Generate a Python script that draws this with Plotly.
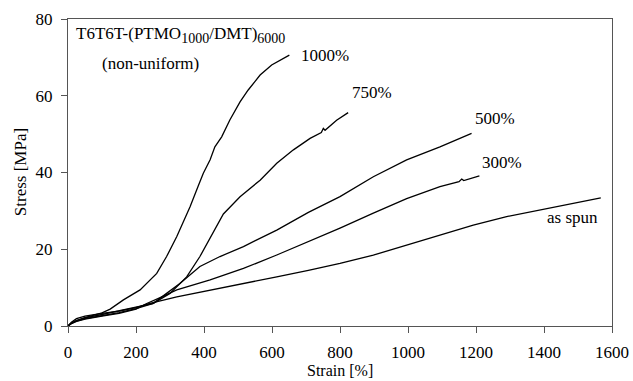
import plotly.graph_objects as go

# ---- data ----
as_spun_x = [0, 10, 25, 50, 100, 150, 200, 241, 320, 418, 516, 614, 707, 800, 898, 996, 1094, 1192, 1290, 1388, 1486, 1567]
as_spun_y = [0, 1.0, 1.9, 2.6, 3.3, 3.9, 4.8, 5.9, 7.6, 9.4, 11.1, 12.8, 14.5, 16.3, 18.5, 21.1, 23.7, 26.3, 28.5, 30.2, 32.0, 33.4]

s300_x = [0, 10, 25, 50, 100, 150, 200, 230, 271, 320, 418, 516, 614, 707, 800, 898, 996, 1094, 1150, 1158, 1164, 1210]
s300_y = [0, 0.6, 1.2, 1.8, 2.6, 3.3, 4.4, 5.8, 7.4, 9.4, 12.0, 15.0, 18.5, 22.0, 25.5, 29.4, 33.2, 36.3, 37.6, 38.3, 37.9, 39.1]

s500_x = [0, 10, 25, 50, 100, 150, 200, 251, 290, 329, 388, 447, 516, 614, 707, 800, 898, 996, 1094, 1187]
s500_y = [0, 0.7, 1.3, 1.9, 2.7, 3.5, 4.5, 5.9, 8.5, 11.1, 15.5, 18.1, 20.7, 25.0, 29.6, 33.7, 38.9, 43.3, 46.7, 50.2]

s750_x = [0, 10, 25, 50, 100, 150, 200, 251, 300, 349, 388, 427, 457, 506, 565, 614, 663, 712, 745, 751, 756, 790, 824]
s750_y = [0, 0.7, 1.4, 2.1, 3.0, 3.9, 4.9, 5.9, 8.5, 12.8, 18.1, 24.2, 29.2, 33.7, 38.0, 42.4, 45.9, 48.9, 50.4, 51.5, 51.0, 53.6, 55.6]

s1000_x = [0, 10, 25, 50, 100, 124, 163, 212, 261, 290, 320, 359, 383, 398, 418, 432, 452, 476, 506, 530, 565, 599, 651]
s1000_y = [0, 0.8, 1.4, 2.2, 3.4, 4.4, 6.8, 9.4, 13.7, 18.1, 23.3, 31.1, 36.5, 39.8, 43.3, 46.7, 49.3, 53.7, 58.4, 61.5, 65.4, 68.0, 70.6]

x_ticks = [0, 200, 400, 600, 800, 1000, 1200, 1400, 1600]
y_ticks = [0, 20, 40, 60, 80]

FONT = '"Liberation Serif", "Times New Roman", Times, serif'
BLACK = "black"
FS = 17

fig = go.Figure()
for xs, ys in [(as_spun_x, as_spun_y), (s300_x, s300_y), (s500_x, s500_y),
               (s750_x, s750_y), (s1000_x, s1000_y)]:
    fig.add_trace(go.Scatter(x=xs, y=ys, mode="lines",
                             line=dict(color="black", width=1.3),
                             showlegend=False, hoverinfo="skip"))

labels = [
    ("1000%", 680, 70.4, "left"),
    ("750%", 828, 60.9, "left"),
    ("500%", 1190, 54.0, "left"),
    ("300%", 1212, 42.5, "left"),
    ("as spun", 1565, 28.2, "right"),
]
for txt, x, y, anc in labels:
    fig.add_annotation(x=x, y=y, text=txt, showarrow=False, xanchor=anc,
                       yanchor="middle", font=dict(family=FONT, size=FS, color=BLACK))

fig.add_annotation(
    x=18, y=75.9,
    text=("T6T6T-(PTMO<sub><span style='font-size:14px'>1000</span></sub>/DMT)"
          "<sub><span style='font-size:14px'>6000</span></sub>"),
    showarrow=False, xanchor="left", yanchor="middle",
    font=dict(family=FONT, size=FS, color=BLACK))
fig.add_annotation(x=242, y=68.4, text="(non-uniform)", showarrow=False,
                   xanchor="center", yanchor="middle",
                   font=dict(family=FONT, size=FS, color=BLACK))

# axis titles as paper annotations
fig.add_annotation(xref="paper", yref="paper", x=0.5, y=-0.178, text="Strain [%]",
                   showarrow=False, xanchor="center", yanchor="bottom",
                   font=dict(family=FONT, size=16, color=BLACK))
fig.add_annotation(xref="paper", yref="paper", x=-0.087, y=0.5, text="Stress [MPa]",
                   textangle=-90, showarrow=False, xanchor="center", yanchor="middle",
                   font=dict(family=FONT, size=FS, color=BLACK))

fig.update_xaxes(range=[0, 1600], tickvals=x_ticks, ticktext=[str(v) for v in x_ticks],
                 ticks="outside", ticklen=6, tickcolor="#555", tickwidth=1,
                 ticklabelstandoff=5, automargin=False,
                 showline=True, linecolor="#555", linewidth=1, mirror=True,
                 showgrid=False, zeroline=False,
                 tickfont=dict(family=FONT, size=FS, color=BLACK))
fig.update_yaxes(range=[0, 80], tickvals=y_ticks, ticktext=[str(v) for v in y_ticks],
                 ticks="outside", ticklen=6, tickcolor="#555", tickwidth=1,
                 ticklabelstandoff=5, automargin=False,
                 showline=True, linecolor="#555", linewidth=1, mirror=True,
                 showgrid=False, zeroline=False,
                 tickfont=dict(family=FONT, size=FS, color=BLACK))

fig.update_layout(width=633, height=381, margin=dict(l=68, r=21, t=19, b=55),
                  paper_bgcolor="white", plot_bgcolor="white")

fig.write_html("out.html")
